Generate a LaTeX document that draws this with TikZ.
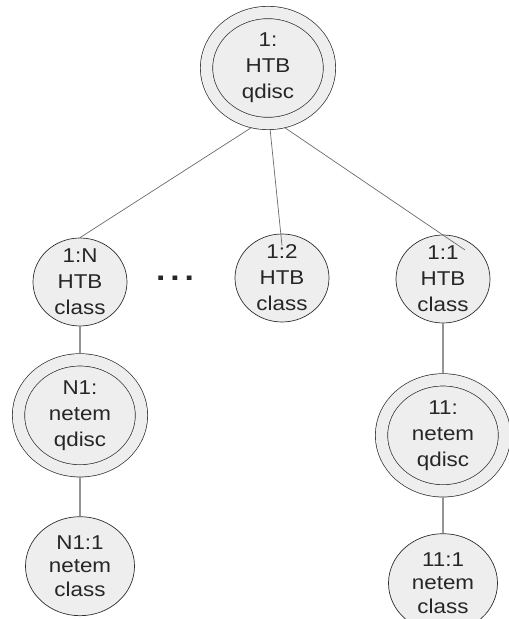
\documentclass[tikz,border=0pt]{standalone}
\usepackage{fontspec}
\setmainfont{Liberation Sans}[FakeStretch=1.12]
\usetikzlibrary{shapes.geometric,positioning}

\definecolor{ringfill}{HTML}{EEEEEE}
\definecolor{rimline}{HTML}{2E2E2E}
\definecolor{treeline}{HTML}{6A6A6A}
\definecolor{stemline}{HTML}{959595}

\begin{document}
\begin{tikzpicture}[
  x = 1pt, y = 1pt,
  every node/.style = {font=\fontsize{20}{26}\selectfont, text=black!85, align=center},
  qdisc/.style = {ellipse, draw=rimline, line width=0.7pt, fill=ringfill,
                  double=ringfill, double distance=11.6pt, inner sep=0pt,
                  outer sep=6.5pt, minimum width=123pt, minimum height=111pt},
  hclass/.style = {ellipse, draw=rimline, line width=0.7pt, fill=ringfill,
                   inner xsep=0pt, inner ysep=-4pt,
                   minimum width=94pt, minimum height=88pt},
  nclass/.style = {hclass, font=\fontsize{20}{23.5}\selectfont,
                   minimum width=109pt, minimum height=99pt},
  tree/.style = {draw=treeline, line width=0.7pt},
  stem/.style = {draw=stemline, line width=1.3pt}
]
\useasboundingbox (0,0) rectangle (509,619);

% root qdisc
\node[qdisc] (root) at (268,551) {1:\\HTB\\qdisc};

% htb classes
\node[hclass] (cls1N) at (80,337)  {1:N\\HTB\\class};
\node[hclass] (cls12) at (282,341) {1:2\\HTB\\class};
\node[hclass] (cls11) at (443,340) {1:1\\HTB\\class};
\node[anchor=base, font=\bfseries\fontsize{30}{30}\selectfont] (gap) at (175,338)
  {.\hspace{4.9pt}.\hspace{4.9pt}.};

% netem qdiscs
\node[qdisc, below=27pt of cls1N] (qdN1) {N1:\\netem\\qdisc};
\node[qdisc, below=50pt of cls11] (qd11) {11:\\netem\\qdisc};

% netem classes
\node[nclass, below=39pt of qdN1] (clsN1) {N1:1\\netem\\class};
\node[nclass, below=36pt of qd11] (cls111) {11:1\\netem\\class};

% links
\draw[tree] (root.254) -- (cls1N.north);
\draw[tree] (root.272) -- ([yshift=-12pt]cls12.north);
\draw[tree] (root.286) -- ([shift={(22,29)}]cls11.center);
\draw[stem] (cls1N) -- (qdN1);
\draw[stem] (qdN1)  -- (clsN1);
\draw[stem] (cls11) -- (qd11);
\draw[stem] (qd11)  -- (cls111);
\end{tikzpicture}
\end{document}
